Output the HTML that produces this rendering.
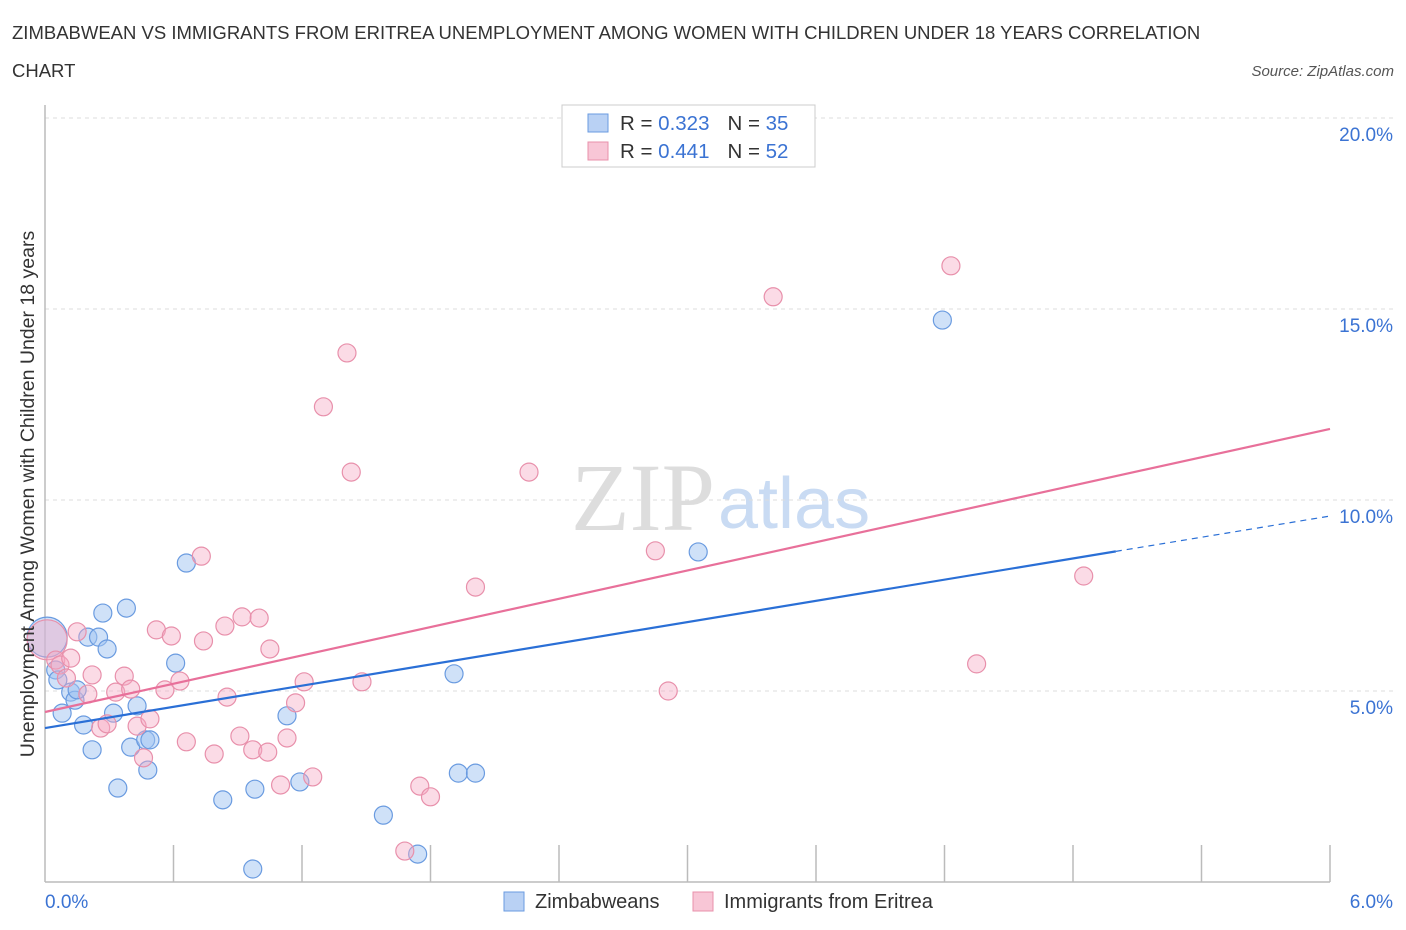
<!DOCTYPE html>
<html><head><meta charset="utf-8"><style>
body{margin:0;background:#fff;font-family:"Liberation Sans",sans-serif;}
svg{display:block}
</style></head><body>
<svg width="1406" height="930">
<text x="12" y="39" font-size="18.5" fill="#333">ZIMBABWEAN VS IMMIGRANTS FROM ERITREA UNEMPLOYMENT AMONG WOMEN WITH CHILDREN UNDER 18 YEARS CORRELATION</text>
<text x="12" y="77" font-size="18.5" fill="#333">CHART</text>
<text x="1394" y="76" font-size="15" fill="#555" font-style="italic" text-anchor="end">Source: ZipAtlas.com</text>
<text x="715" y="530" font-size="96" fill="#ddd" font-family="Liberation Serif,serif" text-anchor="end">ZIP</text>
<text x="718" y="528" font-size="72" fill="#c9dbf3">atlas</text>
<g id="grid"></g>
<g id="axes"></g>
<g id="marks"></g>
<text transform="translate(34,494) rotate(-90)" font-size="19.5" fill="#333" text-anchor="middle">Unemployment Among Women with Children Under 18 years</text>
<text x="45" y="908" font-size="19" fill="#3b73d3">0.0%</text>
<text x="1393" y="908" font-size="19" fill="#3b73d3" text-anchor="end">6.0%</text>
<g>
<rect x="562" y="105" width="253" height="62" fill="#fff" stroke="#ccc"/>
<rect x="588" y="114" width="20" height="18" fill="#b9d1f4" stroke="#6a9be0"/>
<rect x="588" y="142" width="20" height="18" fill="#f8c6d6" stroke="#e890ab"/>
<text x="620" y="130" font-size="20.5" fill="#333">R = <tspan fill="#3b73d3">0.323</tspan><tspan dx="18">N = </tspan><tspan fill="#3b73d3">35</tspan></text>
<text x="620" y="158" font-size="20.5" fill="#333">R = <tspan fill="#3b73d3">0.441</tspan><tspan dx="18">N = </tspan><tspan fill="#3b73d3">52</tspan></text>
</g>
<g>
<rect x="504" y="892" width="20" height="19" fill="#b9d1f4" stroke="#6a9be0"/>
<text x="535" y="908" font-size="20" fill="#333">Zimbabweans</text>
<rect x="693" y="892" width="20" height="19" fill="#f8c6d6" stroke="#e890ab"/>
<text x="724" y="908" font-size="20" fill="#333">Immigrants from Eritrea</text>
</g>
</svg>
<script>
const yTicks=[5,10,15,20];
const yTickLabels=["5.0%","10.0%","15.0%","20.0%"];
const blueX=[0.01,0.05,0.06,0.08,0.12,0.14,0.15,0.18,0.20,0.22,0.25,0.27,0.29,0.32,0.34,0.38,0.40,0.43,0.47,0.48,0.49,0.61,0.66,0.83,0.97,0.98,1.13,1.19,1.58,1.74,1.91,1.93,2.01,3.05,4.19];
const blueY=[6.41,5.55,5.29,4.42,4.97,4.76,5.03,4.11,6.41,3.46,6.41,7.04,6.10,4.42,2.46,7.17,3.53,4.61,3.72,2.93,3.72,5.73,8.35,2.15,0.34,2.43,4.35,2.62,1.75,0.73,5.45,2.85,2.85,8.64,14.71];
const pinkX=[0.01,0.05,0.07,0.10,0.12,0.15,0.20,0.22,0.26,0.29,0.33,0.37,0.40,0.43,0.46,0.49,0.52,0.56,0.59,0.63,0.66,0.73,0.74,0.79,0.84,0.85,0.91,0.92,0.97,1.00,1.04,1.05,1.10,1.13,1.17,1.21,1.25,1.30,1.41,1.43,1.48,1.68,1.75,1.80,2.01,2.26,2.85,2.91,3.40,4.23,4.35,4.85];
const pinkY=[6.34,5.81,5.68,5.34,5.86,6.55,4.92,5.42,4.03,4.14,4.97,5.39,5.05,4.08,3.25,4.27,6.60,5.03,6.44,5.26,3.67,8.53,6.31,3.35,6.70,4.84,3.82,6.94,3.46,6.91,3.40,6.10,2.54,3.77,4.69,5.24,2.75,12.44,13.85,10.73,5.24,0.81,2.51,2.23,7.72,10.73,8.67,5.00,15.32,16.13,5.71,8.01];
const blueTrend=[4.03,9.58];
const pinkTrend=[4.45,11.86];
const blueSolidEnd=5.0;
const xs=v=>45+v*(1285/6);
const ys=v=>882-v*(764/20);
const NS="http://www.w3.org/2000/svg";
function mk(t,a,p){const e=document.createElementNS(NS,t);for(const k in a)e.setAttribute(k,a[k]);p.appendChild(e);return e;}
const grid=document.getElementById('grid'),axes=document.getElementById('axes'),marks=document.getElementById('marks');
yTicks.forEach((t,i)=>{
 const l=mk('line',{x1:45,x2:1393,y1:ys(t),y2:ys(t),stroke:'#ddd','stroke-dasharray':'4,4'},grid);
 
 
 const tx=mk('text',{x:1393,y:ys(t)+23,'font-size':19,fill:'#3b73d3','text-anchor':'end'},grid);
 tx.textContent=yTickLabels[i];
 
 
});
const ya=mk('line',{x1:45,x2:45,y1:105,y2:882,stroke:'#bbb','stroke-width':1.5},axes);


const xa=mk('line',{x1:45,x2:1330,y1:882,y2:882,stroke:'#bbb','stroke-width':1.5},axes);


for(let i=1;i<=10;i++){const t=mk('line',{x1:xs(i*0.6),x2:xs(i*0.6),y1:845,y2:882,stroke:'#bbb','stroke-width':1.5},axes);
 
 }
function dots(X,Y,fill,stroke,name){X.forEach((x,i)=>{const c=mk('circle',{cx:xs(x),cy:ys(Y[i]),r:i==0?20:9,fill:fill,stroke:stroke,'stroke-width':1.2},marks);
 
 });}
dots(blueX,blueY,'rgba(160,195,242,0.5)','#6a9be0','zimbabwean-point');
dots(pinkX,pinkY,'rgba(245,170,195,0.42)','#e890ab','eritrea-point');
const bl=(v)=>blueTrend[0]+(blueTrend[1]-blueTrend[0])*v/6;
const l1=mk('line',{x1:xs(0),y1:ys(bl(0)),x2:xs(blueSolidEnd),y2:ys(bl(blueSolidEnd)),stroke:'#2a6fd6','stroke-width':2.2},marks);


const l2=mk('line',{x1:xs(blueSolidEnd),y1:ys(bl(blueSolidEnd)),x2:xs(6),y2:ys(bl(6)),stroke:'#2a6fd6','stroke-width':1.2,'stroke-dasharray':'6,5'},marks);


const l3=mk('line',{x1:xs(0),y1:ys(pinkTrend[0]),x2:xs(6),y2:ys(pinkTrend[1]),stroke:'#e8709a','stroke-width':2.2},marks);


</script>
</body></html>
